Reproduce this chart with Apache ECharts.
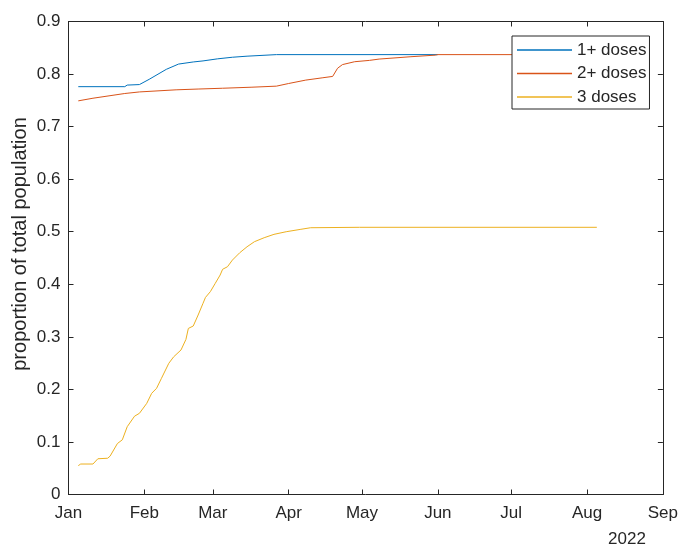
<!DOCTYPE html>
<html>
<head>
<meta charset="utf-8">
<script src="https://cdn.jsdelivr.net/npm/echarts@6/dist/echarts.min.js"></script>
<style>
  html, body { margin: 0; padding: 0; background: #fff; }
  #chart { width: 681px; height: 547px; }
</style>
</head>
<body>
<div id="chart"></div>
<script>
// Vaccination coverage, 2022 (proportion of total population)
const seriesNames = ['1+ doses', '2+ doses', '3 doses'];

const oneDose = [
  ['2022-01-05', 0.776], ['2022-01-24', 0.776], ['2022-01-25', 0.779],
  ['2022-01-30', 0.780], ['2022-02-03', 0.790], ['2022-02-10', 0.809],
  ['2022-02-15', 0.819], ['2022-02-21', 0.823], ['2022-02-25', 0.825],
  ['2022-03-03', 0.829], ['2022-03-09', 0.832], ['2022-03-15', 0.834],
  ['2022-03-27', 0.837], ['2022-06-01', 0.837]
];

const twoDoses = [
  ['2022-01-05', 0.749], ['2022-01-11', 0.754], ['2022-01-24', 0.763],
  ['2022-01-30', 0.766], ['2022-02-14', 0.770], ['2022-02-23', 0.7715],
  ['2022-03-05', 0.773], ['2022-03-17', 0.775], ['2022-03-27', 0.777],
  ['2022-04-01', 0.782], ['2022-04-08', 0.7885], ['2022-04-15', 0.793],
  ['2022-04-19', 0.7955], ['2022-04-21', 0.811], ['2022-04-23', 0.818],
  ['2022-04-28', 0.8235], ['2022-05-04', 0.826], ['2022-05-08', 0.8285],
  ['2022-05-21', 0.833], ['2022-05-31', 0.836], ['2022-06-01', 0.837],
  ['2022-08-05', 0.837]
];

const threeDoses = [
  ['2022-01-05', 0.055], ['2022-01-06', 0.058], ['2022-01-11', 0.058],
  ['2022-01-13', 0.068], ['2022-01-17', 0.069], ['2022-01-18', 0.073],
  ['2022-01-21', 0.097], ['2022-01-23', 0.104], ['2022-01-25', 0.129],
  ['2022-01-28', 0.149], ['2022-01-30', 0.1545], ['2022-02-02', 0.1735],
  ['2022-02-04', 0.1925], ['2022-02-06', 0.202], ['2022-02-08', 0.221],
  ['2022-02-11', 0.2496], ['2022-02-13', 0.262], ['2022-02-16', 0.275],
  ['2022-02-18', 0.295], ['2022-02-19', 0.316], ['2022-02-21', 0.3206],
  ['2022-02-23', 0.3415], ['2022-02-25', 0.3638], ['2022-02-26', 0.375],
  ['2022-02-28', 0.386], ['2022-03-02', 0.4018], ['2022-03-04', 0.4176],
  ['2022-03-05', 0.4285], ['2022-03-07', 0.4334], ['2022-03-09', 0.446],
  ['2022-03-12', 0.460], ['2022-03-15', 0.4714], ['2022-03-18', 0.481],
  ['2022-03-22', 0.4886], ['2022-03-26', 0.495], ['2022-03-31', 0.500],
  ['2022-04-06', 0.5046], ['2022-04-10', 0.5076], ['2022-04-30', 0.5084],
  ['2022-08-05', 0.5084]
];

const monthTicks = ['2022-01-01', '2022-02-01', '2022-03-01', '2022-04-01',
  '2022-05-01', '2022-06-01', '2022-07-01', '2022-08-01', '2022-09-01'];
const monthLabels = ['Jan', 'Feb', 'Mar', 'Apr', 'May', 'Jun', 'Jul', 'Aug', 'Sep'];
const yearLabel = '2022';
const yTitle = 'proportion of total population';

const colors = ['#0072BD', '#D95319', '#EDB120'];
const axisColor = '#262626';
const font = 'Liberation Sans, Arial, Helvetica, sans-serif';
const labelSize = 17;

const tickTimes = monthTicks.map(d => new Date(d + 'T00:00:00').getTime());
function monthName(v) {
  const i = tickTimes.findIndex(t => Math.abs(t - v) < 36e5 * 12);
  return i >= 0 ? monthLabels[i] : '';
}

const DAY = 864e5;
const baseX = {
  type: 'time',
  min: tickTimes[0],
  max: tickTimes[tickTimes.length - 1],
  splitNumber: 8,
  minInterval: 28 * DAY,
  maxInterval: 31 * DAY,
  axisLine: { show: true, onZero: false, lineStyle: { color: axisColor, width: 1 } },
  axisTick: { show: true, inside: true, length: 5, lineStyle: { color: axisColor } },
  splitLine: { show: false }
};
const baseY = {
  type: 'value',
  min: 0,
  max: 0.9,
  interval: 0.1,
  axisLine: { show: true, onZero: false, lineStyle: { color: axisColor, width: 1 } },
  axisTick: { show: true, inside: true, length: 5, lineStyle: { color: axisColor } },
  splitLine: { show: false }
};

const chart = echarts.init(document.getElementById('chart'), null, { renderer: 'canvas' });
chart.setOption({
  animation: false,
  backgroundColor: '#fff',
  color: colors,
  grid: { left: 68.5, right: 17, top: 21.5, bottom: 52.5, containLabel: false },
  xAxis: [
    Object.assign({}, baseX, {
      position: 'bottom',
      axisLabel: {
        show: true, margin: 10, color: axisColor, fontSize: labelSize, fontFamily: font,
        formatter: v => monthName(v), hideOverlap: false, showMinLabel: true, showMaxLabel: true
      }
    }),
    Object.assign({}, baseX, { position: 'top', axisLabel: { show: false } })
  ],
  yAxis: [
    Object.assign({}, baseY, {
      position: 'left',
      axisLabel: {
        show: true, margin: 8, color: axisColor, fontSize: labelSize, fontFamily: font,
        formatter: v => (Math.round(v * 10) / 10).toString()
      }
    }),
    Object.assign({}, baseY, { position: 'right', axisLabel: { show: false } })
  ],
  legend: {
    orient: 'vertical',
    left: 512,
    top: 36,
    padding: [5.5, 3, 3.5, 5],
    itemGap: 6.5,
    itemWidth: 55,
    itemHeight: 1.5,
    icon: 'rect',
    backgroundColor: '#fff',
    borderColor: axisColor,
    borderWidth: 1,
    borderRadius: 0,
    textStyle: { color: axisColor, fontSize: labelSize, lineHeight: 17, fontFamily: font },
    data: seriesNames
  },
  series: [
    { name: seriesNames[0], type: 'line', data: oneDose },
    { name: seriesNames[1], type: 'line', data: twoDoses },
    { name: seriesNames[2], type: 'line', data: threeDoses }
  ].map(s => Object.assign(s, {
    symbol: 'none',
    lineStyle: { width: 1 },
    z: 2
  })),
  graphic: [
    {
      type: 'text',
      x: 20,
      y: 244,
      rotation: Math.PI / 2,
      style: {
        text: yTitle, fill: axisColor, fontSize: 20, fontFamily: font,
        align: 'center', verticalAlign: 'middle'
      }
    },
    {
      type: 'text',
      x: 627,
      y: 539,
      style: {
        text: yearLabel, fill: axisColor, fontSize: labelSize, fontFamily: font,
        align: 'center', verticalAlign: 'middle'
      }
    }
  ]
});
</script>
</body>
</html>
